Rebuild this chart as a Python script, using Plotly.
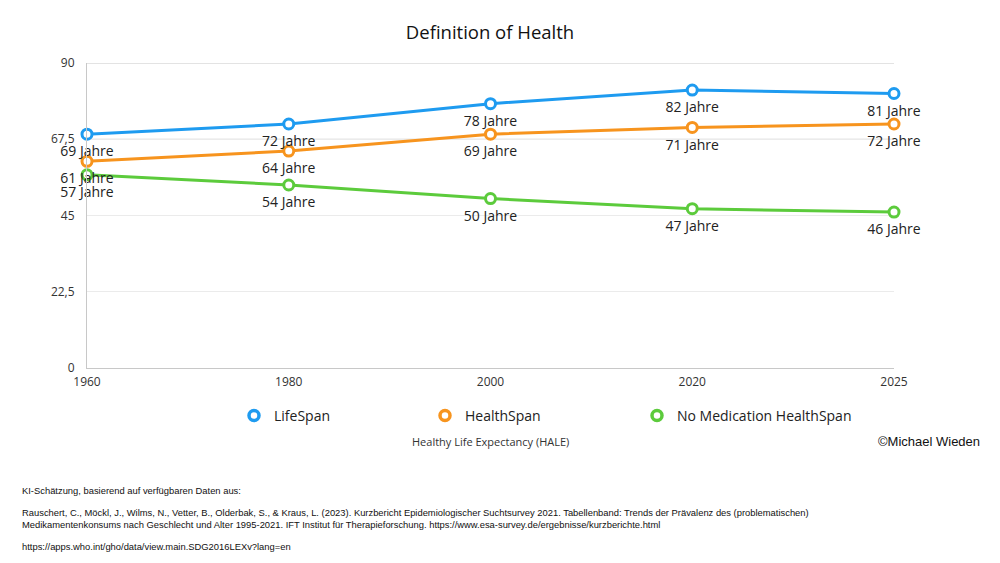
import plotly.graph_objects as go

years = ["1960", "1980", "2000", "2020", "2025"]
lifespan = [69, 72, 78, 82, 81]
healthspan = [61, 64, 69, 71, 72]
nomed = [57, 54, 50, 47, 46]
series_names = ["LifeSpan", "HealthSpan", "No Medication HealthSpan"]
colors = ["#1E9BF0", "#F7941E", "#5CCB3C"]
y_ticks = [0, 22.5, 45, 67.5, 90]
y_tick_labels = ["0", "22,5", "45", "67,5", "90"]

title = "Definition of Health"
x_title = "Healthy Life Expectancy (HALE)"
copyright_text = "©Michael Wieden"
notes = [
    "KI-Schätzung, basierend auf verfügbaren Daten aus:",
    "Rauschert, C., Möckl, J., Wilms, N., Vetter, B., Olderbak, S., & Kraus, L. (2023). Kurzbericht Epidemiologischer Suchtsurvey 2021. Tabellenband: Trends der Prävalenz des (problematischen)<br>Medikamentenkonsums nach Geschlecht und Alter 1995-2021. IFT Institut für Therapieforschung. https://www.esa-survey.de/ergebnisse/kurzberichte.html",
    "https://apps.who.int/gho/data/view.main.SDG2016LEXv?lang=en",
]

font_main = "'Open Sans', 'Noto Sans', sans-serif"
font_small = "'Liberation Sans', Arial, sans-serif"

# page offset (browser body margin)
OFF = 8
L, T = 87 - OFF, 63 - OFF
PW, PH = 807, 305

fig = go.Figure()
for name, vals, col in zip(series_names, [lifespan, healthspan, nomed], colors):
    fig.add_trace(go.Scatter(
        x=years, y=vals, name=name, mode="lines+markers",
        line=dict(color=col, width=3),
        marker=dict(symbol="circle", size=10, color="white",
                    line=dict(color=col, width=3)),
        cliponaxis=False, showlegend=False,
    ))
# value labels (placed below each point)
for name, vals in zip(series_names, [lifespan, healthspan, nomed]):
    fig.add_trace(go.Scatter(
        x=years, y=vals, mode="markers+text",
        marker=dict(size=17, opacity=0),
        text=[f"{v} Jahre" for v in vals],
        textposition="bottom center",
        textfont=dict(family=font_main, size=14, color="#222222"),
        cliponaxis=False, showlegend=False, hoverinfo="skip",
    ))
# legend-only entries (marker only), one legend per entry
legend_ids = ["legend", "legend2", "legend3"]
legend_left_px = [234, 425, 637]
for name, col, lid in zip(series_names, colors, legend_ids):
    fig.add_trace(go.Scatter(
        x=[None], y=[None], name=name, mode="markers",
        marker=dict(symbol="circle", size=10, color="white", line=dict(color=col, width=3.5)),
        showlegend=True, legend=lid,
    ))

for yv in [y_ticks[3], y_ticks[4]]:
    fig.add_shape(type="line", xref="paper", yref="y", x0=0, x1=1, y0=yv, y1=yv,
                  line=dict(color="#c8c8c8", width=1), layer="below")

legend_common = dict(orientation="h", xanchor="left", y=(368 - 416) / PH, yanchor="middle",
                     font=dict(family=font_main, size=14, color="#222222"),
                     itemwidth=30, itemclick=False, bgcolor="rgba(0,0,0,0)")

fig.update_layout(
    width=1000, height=563,
    paper_bgcolor="white", plot_bgcolor="white",
    margin=dict(l=L, r=1000 - L - PW, t=T, b=563 - T - PH),
    title=dict(text=title, x=(490 - OFF) / 1000, xanchor="center",
               y=1 - (33 - OFF) / 563, yanchor="middle",
               font=dict(family=font_main, size=18.5, color="#111111")),
    showlegend=True,
    legend=dict(x=(legend_left_px[0] - L - OFF) / PW, **legend_common),
    legend2=dict(x=(legend_left_px[1] - L - OFF) / PW, **legend_common),
    legend3=dict(x=(legend_left_px[2] - L - OFF) / PW, **legend_common),
    xaxis=dict(
        type="category", range=[0, 4],
        showgrid=False, showline=True, linecolor="#c8c8c8", linewidth=1,
        ticks="", tickfont=dict(family=font_main, size=12, color="#333333"),
        ticklabelstandoff=3,
    ),
    yaxis=dict(
        range=[0, 90], tickvals=y_ticks, ticktext=y_tick_labels,
        showgrid=True, gridcolor="#ebebeb", gridwidth=1,
        showline=True, linecolor="#c8c8c8", linewidth=1, zeroline=False,
        ticks="", tickfont=dict(family=font_main, size=12, color="#333333"),
        ticklabelstandoff=9,
    ),
)

fig.add_annotation(text=x_title, xref="paper", yref="paper", x=(490 - L - OFF) / PW,
                   y=(368 - 441) / PH, xanchor="center", yanchor="middle", showarrow=False,
                   font=dict(family=font_main, size=11, color="#333333"))
fig.add_annotation(text=copyright_text, xref="paper", yref="paper", x=(982 - L - OFF) / PW,
                   y=(368 - 441) / PH, xanchor="right", yanchor="middle", showarrow=False,
                   font=dict(family=font_small, size=13, color="#111111"))

note_ys = [491, 518, 546]
for txt, yp in zip(notes, note_ys):
    fig.add_annotation(text=txt, xref="paper", yref="paper",
                       x=(20 - L - OFF) / PW, y=(368 - yp) / PH,
                       xanchor="left", yanchor="middle", align="left", showarrow=False,
                       font=dict(family=font_small, size=9.4, color="#111111"))

fig.write_html("out.html")
